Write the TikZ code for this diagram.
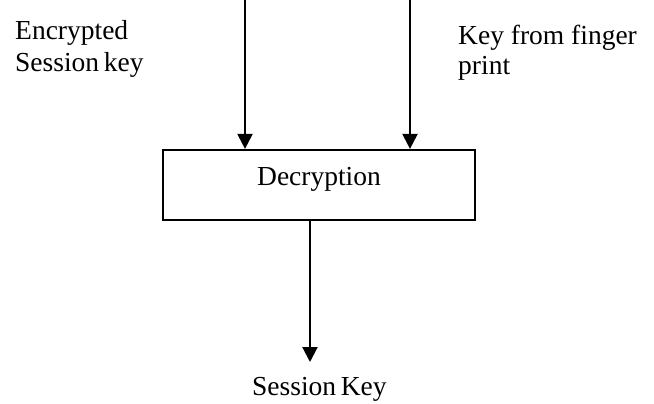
\documentclass[tikz,border=0pt]{standalone}
\usepackage{fontspec}
\setmainfont{Liberation Serif}
\usetikzlibrary{arrows.meta}
\begin{document}
\begin{tikzpicture}[x=1pt,y=-1pt,
  lbl/.style={anchor=base west,inner sep=0pt,font=\fontsize{27.5}{32}\selectfont},
  arr/.style={line width=2.2pt,-{Triangle[width=15pt,length=15pt]}},
  box/.style={draw,line width=2.2pt,minimum width=312pt,minimum height=70pt,inner sep=0pt}]
\useasboundingbox (0,0) rectangle (654,404);
\node[box] (dec) at (319,185) {};
\node[anchor=base,inner sep=0pt,font=\fontsize{27.5}{32}\selectfont] (dect) at (319,185) {Decryption};
\node[lbl] (enc1) at (15,40) {Encrypted};
\node[lbl] (enc2) at (15,72) {Session\,key};
\node[lbl] (fp1) at (458,45) {Key from finger};
\node[lbl] (fp2) at (458,75) {print};
\node[lbl] (sk) at (252,395) {Session\,Key};
\coordinate (t1) at (245,0);
\coordinate (t2) at (410,0);
\coordinate (b1) at (310,362);
\draw[arr] (t1) -- (t1 |- dec.north);
\draw[arr] (t2) -- (t2 |- dec.north);
\draw[arr] (b1 |- dec.south) -- (b1);
\end{tikzpicture}
\end{document}
